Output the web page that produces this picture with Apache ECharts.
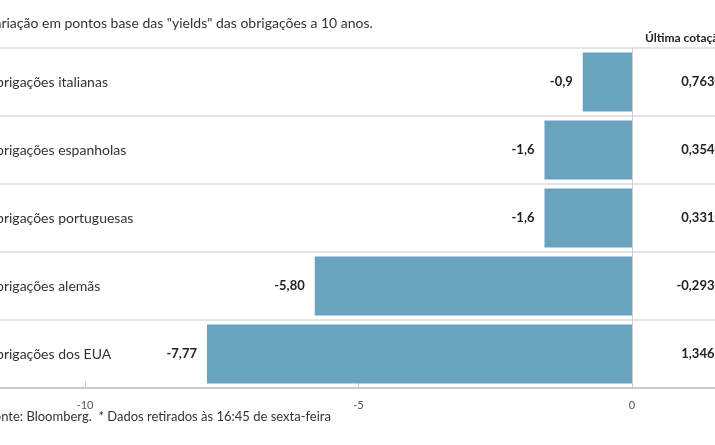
<!DOCTYPE html>
<html><head><meta charset="utf-8">
<script src="https://cdn.jsdelivr.net/npm/echarts@6/dist/echarts.min.js"></script>
<style>html,body{margin:0;background:#fff}#main{width:715px;height:445px}</style>
</head><body><div id="main"></div>
<script>
// dados
var categorias = ['Obrigações italianas','Obrigações espanholas','Obrigações portuguesas','Obrigações alemãs','Obrigações dos EUA'];
var variacao = [-0.9, -1.6, -1.6, -5.80, -7.77];
var rotulos = ['-0,9','-1,6','-1,6','-5,80','-7,77'];
var cotacao = ['0,7630','0,3540','0,3310','-0,2930','1,3461'];
var ticks = [-10, -5, 0];

var fonte = 'Lato, "Open Sans", sans-serif';
var top0 = 48, linha = 68, px = 54.7;

var textos = [
  {type:'text', left:-14, top:16, style:{text:'Variação em pontos base das "yields" das obrigações a 10 anos.', font:'14px '+fonte, fill:'#333'}},
  {type:'text', left:645, top:32, style:{text:'Última cotação*', font:'bold 12px '+fonte, fill:'#222'}},
  {type:'text', left:-13, top:410, style:{text:'Fonte: Bloomberg.  * Dados retirados às 16:45 de sexta-feira', font:'13px '+fonte, fill:'#333'}}
];
for (var i=0;i<cotacao.length;i++){
  var yc = top0+linha*i+linha/2;
  textos.push({type:'text', x:-15, y:yc,
    style:{text:categorias[i], font:'14px '+fonte, fill:'#333', align:'left', verticalAlign:'middle'}});
  textos.push({type:'text', x:722, y:yc,
    style:{text:cotacao[i], font:'bold 13px '+fonte, fill:'#222', align:'right', verticalAlign:'middle'}});
}

var myChart = echarts.init(document.getElementById('main'));
var option = {
  animation:false,
  graphic: textos,
  grid: {left:0, right:0, top:top0, bottom:445-top0-5*linha},
  xAxis: {
    type:'value', min:-632/px, max:83/px,
    axisLine:{show:true, lineStyle:{color:'#ccc', width:2}},
    axisTick:{show:true, inside:true, length:7, customValues:ticks, lineStyle:{color:'#ccc'}},
    axisLabel:{customValues:ticks, color:'#555', fontSize:11, fontFamily:fonte, margin:12},
    splitLine:{show:false}
  },
  yAxis: {
    type:'category', inverse:true, data:categorias,
    axisLine:{show:true, onZero:true, lineStyle:{color:'#ccc'}},
    axisTick:{show:false},
    axisLabel:{show:false},
    splitLine:{show:true, lineStyle:{color:'#ddd', width:1.5}}
  },
  series: [{
    type:'bar', data:variacao, barWidth:'87%',
    itemStyle:{color:'#6aa3bf'},
    label:{show:true, position:'left', distance:10, color:'#222', fontSize:13, fontWeight:'bold', fontFamily:fonte,
      formatter:function(p){return rotulos[p.dataIndex];}}
  }]
};
myChart.setOption(option);
</script></body></html>
